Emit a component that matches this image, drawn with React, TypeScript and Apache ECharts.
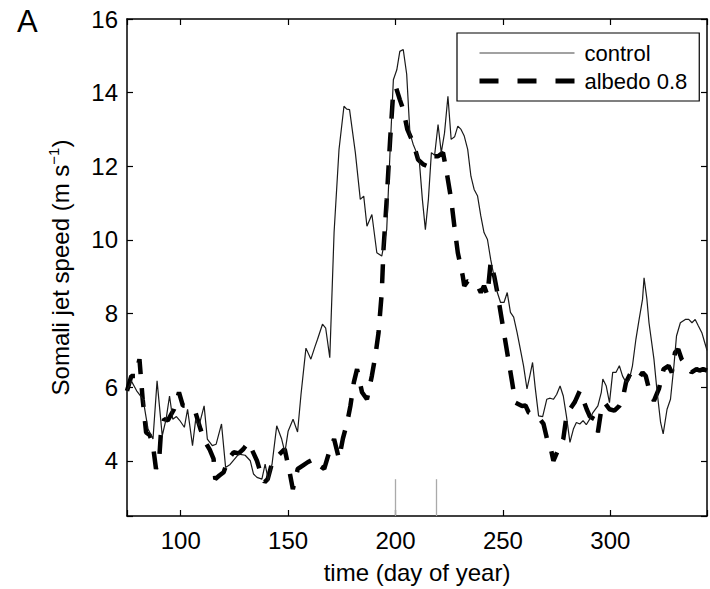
import React, { useEffect, useRef } from "react";
import * as echarts from "echarts";

const controlDays = [
  75, 77, 79.5, 82.5, 84.8, 87.1, 89, 91.4, 93.2, 94.8, 96.3, 98, 99.5, 101.7, 103.2, 105.5, 107, 108.5, 110.9, 112.4,
  114.7, 116.5, 119, 120.9, 123, 127, 130, 132.4, 133.9, 135.5, 137.8, 139.3, 140.8, 142.5, 144.7, 147, 148.5, 150,
  152.3, 154.4, 156, 158.3, 160.6, 162.5, 163.7, 166, 167.5, 169.4, 171.4, 173.7, 176, 177.3, 178.6, 181.3, 183.6,
  185.2, 186.7, 189, 191.3, 193.6, 195.9, 197.5, 199, 200.6, 202, 203.6, 205.2, 206.7, 208.2, 209.8, 211, 212.5,
  213.9, 215.3, 216.7, 218.2, 219.8, 221.3, 222.8, 224.4, 225.9, 227.5, 229, 230.5, 232, 233.6, 235.1, 236.6, 238.2,
  239.7, 241.2, 242.8, 244.3, 245.8, 247.4, 248.9, 250.5, 252, 253.5, 255, 256.6, 258.1, 259.6, 261.2, 262.5, 263.8,
  265, 266.6, 268.5, 270.4, 272, 273.5, 275, 276.6, 278.1, 279.6, 281.2, 282.8, 284.2, 285.8, 287.3, 288.8, 290.4,
  291.9, 294.2, 295.8, 296.5, 298.1, 299.6, 301.1, 302.6, 304.2, 305.7, 307.3, 308.8, 310.3, 311.9, 313.4, 315, 315.7,
  317, 318, 320.3, 321.8, 323.4, 324.6, 326.4, 328, 329.6, 330.8, 332.6, 334.9, 336.5, 338, 339.5, 341, 342.6, 344, 345,
];
const controlSpeed = [
  5.9, 6.17, 5.9, 5.67, 4.86, 4.59, 6.17, 4.68, 5.13, 5.76, 5.13, 5.2, 5.1, 4.91, 5.4, 4.41, 5.13, 4.95, 5.49, 4.59,
  4.41, 4.45, 5.0, 3.82, 3.9, 4.18, 4.15, 4.0, 3.64, 3.55, 3.5, 3.91, 3.46, 3.9, 4.95, 4.59, 4.23, 4.8,
  5.13, 4.78, 5.8, 7.06, 6.76, 7.1, 7.3, 7.71, 7.6, 6.8, 10.2, 12.46, 13.63, 13.55, 13.54, 12.37, 11.1,
  11.19, 10.37, 10.69, 9.65, 9.56, 10.28, 12.46, 14.35, 14.62, 15.12, 15.17, 14.5, 12.9, 12.6, 12.37, 12.2, 11.1,
  10.28, 11.1, 12.37, 12.3, 13.13, 12.37, 12.9, 13.9, 12.73, 12.8, 13.09, 13.0, 12.82, 12.46, 11.73, 11.37, 11.19,
  10.65, 10.2, 10.01, 9.47, 9.02, 8.57, 8.3, 8.3, 8.57, 8.03, 7.9, 7.48, 7.03, 6.58, 5.95, 6.3, 6.67,
  6.0, 5.22, 5.2, 5.67, 5.7, 5.67, 5.8, 6.03, 5.76, 5.2, 4.5, 4.86, 5.04, 5.0, 5.09, 4.98, 5.13,
  5.31, 5.49, 5.86, 6.22, 6.03, 5.58, 6.4, 6.4, 6.58, 6.3, 6.13, 6.2, 6.58, 7.3, 7.84, 8.39, 8.97,
  8.4, 7.75, 6.76, 5.86, 5.04, 4.73, 5.4, 5.67, 6.58, 7.39, 7.75, 7.84, 7.84, 7.75, 7.84, 7.66, 7.48, 7.2, 7.0,
];

const albedoDays = [
  75, 77, 79, 80.8, 82.3, 83.9, 85.5, 86.9, 88.5, 90, 90.8, 92.3, 94, 96.9, 99.2, 101, 103, 105, 106.9, 109.2, 111.5,
  113.5, 115.3, 116.1, 118, 120, 122.2, 124.6, 127, 129.2, 131.5, 133, 135.5, 137.6, 139.1, 140.5, 142.2, 145.3,
  148.4, 150.7, 152.2, 154.5, 156.8, 159.1, 162.2, 164.5, 166.8, 169.1, 171.4, 173.7, 175.5, 177.5, 179, 180.6,
  182.1, 184.4, 186.7, 189, 190.6, 192.1, 193.6, 194.4, 195.9, 197.5, 199, 200.3, 202, 203.6, 205.5, 208.2, 210.5,
  212.9, 215, 217.5, 219.8, 222.1, 223.6, 225.9, 227.4, 229, 231.3, 232, 233.6, 236, 238.2, 239.7, 241.2, 242.8,
  244.3, 246, 247.4, 249.7, 252, 254.3, 255.8, 258.9, 260.5, 262, 265, 266.6, 268.9, 270.5, 272, 273.5, 275, 276.6,
  278.1, 279.6, 281.2, 283.5, 285.8, 287.3, 289, 290.5, 292.7, 294.2, 295.8, 297.3, 299.6, 301.9, 304.2, 305.7,
  307.3, 309.6, 311.9, 313.4, 315, 316.5, 318, 320.3, 322.6, 324.8, 327.1, 328.6, 330.1, 331.6, 333.2, 335.5, 337.8,
  340.1, 341.5, 343.2, 345,
];
const albedoSpeed = [
  5.9, 6.3, 6.3, 6.76, 5.67, 4.77, 4.7, 4.5, 3.78, 4.05, 4.77, 5.13, 5.1, 5.4, 5.86, 5.5, 5.49, 5.4, 5.31, 4.86, 4.5,
  4.3, 4.05, 3.5, 3.6, 3.69, 4.05, 4.23, 4.2, 4.32, 4.5, 4.32, 4.0, 3.6, 3.42, 3.5, 3.87, 4.14,
  4.32, 3.69, 3.23, 3.78, 3.87, 3.96, 4.05, 3.87, 3.78, 4.23, 4.59, 4.05, 4.6, 5.04, 5.49, 6.13,
  6.49, 5.86, 5.67, 6.31, 6.85, 7.48, 8.57, 9.74, 11.1, 12.73, 14.08, 14.13, 13.81, 13.54, 13.0, 12.64, 12.18,
  12.05, 12.0, 12.27, 12.27, 12.37, 11.91, 11.1, 10.37, 9.65, 9.02, 8.75, 8.88, 8.85, 8.75, 8.57, 8.75, 8.5,
  9.4, 9.0, 8.57, 7.75, 6.94, 6.13, 5.58, 5.49, 5.5, 5.31, 5.22, 5.18, 5.0, 4.6, 4.41, 4.0, 4.2, 4.41,
  4.59, 5.22, 5.4, 5.6, 5.9, 5.67, 5.4, 5.2, 5.13, 4.77, 5.4, 5.58, 5.4, 5.36, 5.49, 5.67,
  6.13, 6.4, 6.35, 6.26, 6.4, 6.3, 5.95, 5.63, 5.95, 6.49, 6.58, 6.4, 6.94, 7.03, 6.76, 6.58, 6.4,
  6.49, 6.45, 6.49, 6.45,
];

const markerDays = [200, 219];
const markerRange = [2.5, 3.5];
const xTicks = [100, 150, 200, 250, 300];
const yTicks = [4, 6, 8, 10, 12, 14, 16];

const FONT = "'Liberation Sans', Arial, Helvetica, sans-serif";

export default function App() {
  const ref = useRef<HTMLDivElement>(null);
  useEffect(() => {
    if (!ref.current) return;
    const chart = echarts.init(ref.current, null, { renderer: "svg" });
    const control = controlDays.map((d, i) => [d, controlSpeed[i]]);
    const albedo = albedoDays.map((d, i) => [d, albedoSpeed[i]]);
    const tickStyle = { show: true, inside: true, length: 6, lineStyle: { color: "#000", width: 1.2 } };
    const lineAxis = { show: true, lineStyle: { color: "#000", width: 1.5 } };
    const xCommon = {
      type: "value",
      min: 75,
      max: 345,
      splitNumber: 5,
      minInterval: 50,
      maxInterval: 50,
      splitLine: { show: false },
      axisLine: lineAxis,
      axisTick: tickStyle,
    };
    const yCommon = {
      type: "value",
      min: 2.5,
      max: 16,
      splitNumber: 7,
      minInterval: 2,
      maxInterval: 2,
      splitLine: { show: false },
      axisLine: lineAxis,
      axisTick: tickStyle,
    };
    chart.setOption({
      animation: false,
      backgroundColor: "#fff",
      title: {
        text: "A",
        left: 12,
        top: 1,
        textStyle: { fontFamily: FONT, fontSize: 31, fontWeight: "normal", color: "#000" },
      },
      grid: { left: 127, top: 19, width: 586, height: 498 },
      legend: {
        orient: "vertical",
        left: 457,
        top: 33,
        padding: [9, 12, 9, 20],
        itemWidth: 95,
        itemHeight: 14,
        itemGap: 6,
        borderColor: "#000",
        borderWidth: 1.2,
        backgroundColor: "#fff",
        itemStyle: { opacity: 0 },
        textStyle: { fontFamily: FONT, fontSize: 22, lineHeight: 22, color: "#000", padding: [0, 0, 0, 5] },
        data: [
          { name: "control", lineStyle: { width: 1.2, color: "#444" } },
          { name: "albedo 0.8", lineStyle: { type: [19, 19], width: 5, cap: "butt" } },
        ],
      },
      xAxis: [
        {
          ...xCommon,
          position: "bottom",
          name: "time (day of year)",
          nameLocation: "middle",
          nameGap: 44,
          nameTextStyle: { fontFamily: FONT, fontSize: 24, color: "#000" },
          axisLabel: {
            margin: 12,
            fontFamily: FONT,
            fontSize: 24,
            color: "#000",
            formatter: (v: number) => (xTicks.includes(v) ? String(v) : ""),
          },
        },
        { ...xCommon, position: "top", axisLabel: { show: false } },
      ],
      yAxis: [
        {
          ...yCommon,
          position: "left",
          name: "Somali jet speed (m s{sup|−1})",
          nameLocation: "middle",
          nameGap: 52,
          nameRotate: 90,
          nameTextStyle: {
            fontFamily: FONT,
            fontSize: 24,
            color: "#000",
            rich: { sup: { fontFamily: FONT, fontSize: 15, color: "#000", padding: [0, 0, 14, 0] } },
          },
          axisLabel: {
            margin: 9,
            fontFamily: FONT,
            fontSize: 24,
            color: "#000",
            formatter: (v: number) => (yTicks.includes(v) ? String(v) : ""),
          },
        },
        { ...yCommon, position: "right", axisLabel: { show: false } },
      ],
      series: [
        {
          name: "control",
          type: "line",
          data: control,
          symbol: "none",
          showSymbol: false,
          lineStyle: { color: "#1a1a1a", width: 1.2 },
          itemStyle: { color: "#1a1a1a" },
          z: 3,
          markLine: {
            silent: true,
            symbol: "none",
            label: { show: false },
            lineStyle: { color: "#aaa", width: 1.3, type: "solid" },
            data: markerDays.map((d) => [{ coord: [d, markerRange[0]] }, { coord: [d, markerRange[1]] }]),
          },
        },
        {
          name: "albedo 0.8",
          type: "line",
          data: albedo,
          symbol: "none",
          showSymbol: false,
          lineStyle: { color: "#000", width: 4.5, type: [19, 14], cap: "butt" },
          itemStyle: { color: "#000" },
          z: 2,
        },
      ],
    });
    return () => chart.dispose();
  }, []);
  return <div ref={ref} style={{ position: "fixed", left: 0, top: 0, width: 710, height: 589 }} />;
}
